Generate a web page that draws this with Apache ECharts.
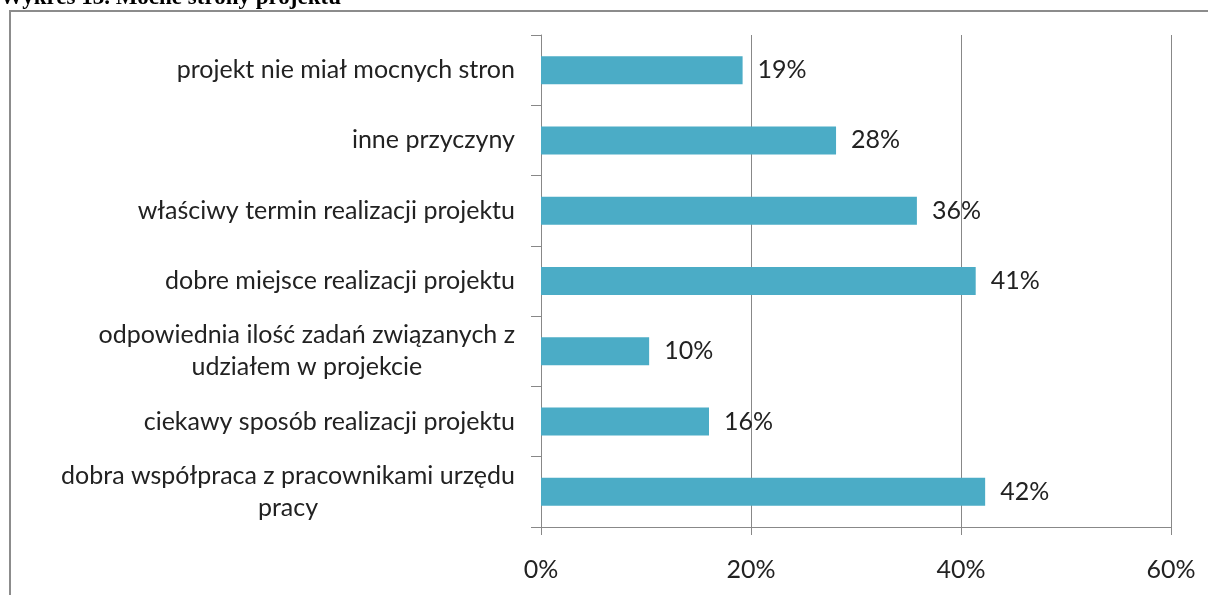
<!DOCTYPE html>
<html>
<head>
<meta charset="utf-8">
<title>Wykres 13. Mocne strony projektu</title>
<script src="https://cdn.jsdelivr.net/npm/echarts@6/dist/echarts.min.js"></script>
<style>
  html, body { margin: 0; padding: 0; background: #fff; }
  #chart { width: 1208px; height: 595px; }
</style>
</head>
<body>
<div id="chart"></div>
<script>
// categories from top to bottom as in the picture
const categories = [
  "projekt nie miał mocnych stron",
  "inne przyczyny",
  "właściwy termin realizacji projektu",
  "dobre miejsce realizacji projektu",
  "odpowiednia ilość zadań związanych z\nudziałem w projekcie",
  "ciekawy sposób realizacji projektu",
  "dobra współpraca z pracownikami urzędu\npracy"
];
const values = [19.2, 28.1, 35.8, 41.4, 10.3, 16.0, 42.3];
const xTicks = [0, 20, 40, 60];

const labelFont = "Lato, 'Open Sans', sans-serif";
const labelSize = 25;

let chart = echarts.init(document.getElementById("chart"));

let option = {
  animation: false,
  graphic: [
    {
      type: "rect",
      shape: { x: 10, y: 11, width: 1300, height: 700 },
      style: { fill: "none", stroke: "#8c8c8c", lineWidth: 2 }
    },
    {
      type: "text",
      x: 0,
      y: 10,
      style: {
        text: "Wykres 13. Mocne strony projektu",
        font: "bold 23px 'Liberation Serif', serif",
        fill: "#000",
        verticalAlign: "bottom"
      }
    }
  ],
  grid: {
    left: 541,
    right: 37,
    top: 35,
    bottom: 68
  },
  xAxis: {
    type: "value",
    min: xTicks[0],
    max: xTicks[xTicks.length - 1],
    interval: 20,
    axisLine: { show: true, lineStyle: { color: "#888", width: 1 } },
    axisTick: { show: true, length: 8, lineStyle: { color: "#888" } },
    splitLine: { show: true, lineStyle: { color: "#888", width: 1 } },
    axisLabel: {
      formatter: v => v + "%",
      color: "#222",
      fontFamily: labelFont,
      fontSize: labelSize,
      margin: 30
    }
  },
  yAxis: {
    type: "category",
    inverse: true,
    data: categories,
    axisLine: { show: true, lineStyle: { color: "#888", width: 1 } },
    axisTick: { show: true, length: 10, lineStyle: { color: "#888" } },
    axisLabel: {
      margin: 26,
      color: "#222",
      fontFamily: labelFont,
      fontSize: labelSize,
      lineHeight: 32,
      formatter: s => s.split("\n").map(l => "{c|" + l + "}").join("\n"),
      rich: {
        c: {
          align: "center",
          color: "#222",
          fontFamily: labelFont,
          fontSize: labelSize,
          lineHeight: 32
        }
      }
    }
  },
  series: [
    {
      type: "bar",
      data: values,
      barWidth: 28,
      itemStyle: { color: "#4BACC6" },
      label: {
        show: true,
        position: "right",
        distance: 15,
        formatter: p => Math.round(p.value) + "%",
        color: "#222",
        fontFamily: labelFont,
        fontSize: labelSize
      }
    }
  ]
};

chart.setOption(option);
</script>
</body>
</html>
